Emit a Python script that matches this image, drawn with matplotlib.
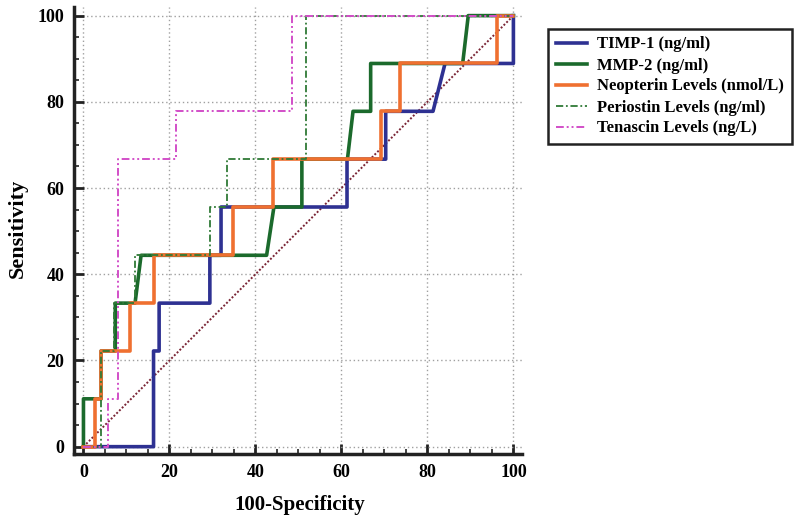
import matplotlib
matplotlib.use('Agg')
import matplotlib.pyplot as plt
from matplotlib.ticker import MultipleLocator

# ROC curves: (100-Specificity, Sensitivity) vertices
timp1_x = [0, 16.3, 16.3, 17.6, 17.6, 29.4, 29.4, 32.0, 32.0, 61.3, 61.3, 70.3, 70.3, 81.3, 84.1, 100, 100]
timp1_y = [0, 0, 22.2, 22.2, 33.3, 33.3, 44.4, 44.4, 55.6, 55.6, 66.7, 66.7, 77.8, 77.8, 88.9, 88.9, 100]

mmp2_x = [0, 0, 4.1, 4.1, 7.4, 7.4, 12.0, 13.4, 42.6, 44.3, 50.8, 50.8, 61.4, 62.7, 66.8, 66.8, 88.2, 89.5, 100]
mmp2_y = [0, 11.1, 11.1, 22.2, 22.2, 33.3, 33.3, 44.4, 44.4, 55.6, 55.6, 66.7, 66.7, 77.8, 77.8, 88.9, 88.9, 100, 100]

neop_x = [0, 2.7, 2.7, 4.1, 4.1, 10.9, 10.9, 16.3, 16.3, 34.8, 34.8, 44.1, 44.1, 69.3, 69.3, 73.6, 73.6, 96.1, 96.1, 100]
neop_y = [0, 0, 11.1, 11.1, 22.2, 22.2, 33.3, 33.3, 44.4, 44.4, 55.6, 55.6, 66.7, 66.7, 77.8, 77.8, 88.9, 88.9, 100, 100]

peri_x = [0, 4.1, 4.1, 7.0, 7.0, 12.0, 12.0, 29.5, 29.5, 33.3, 33.3, 51.7, 51.7, 100]
peri_y = [0, 0, 22.2, 22.2, 33.3, 33.3, 44.4, 44.4, 55.6, 55.6, 66.7, 66.7, 100, 100]

tena_x = [0, 5.8, 5.8, 8.1, 8.1, 21.6, 21.6, 48.5, 48.5, 100]
tena_y = [0, 0, 11.1, 11.1, 66.7, 66.7, 77.8, 77.8, 100, 100]

ref_x = [0, 100]
ref_y = [0, 100]

labels = ['TIMP-1 (ng/ml)', 'MMP-2 (ng/ml)', 'Neopterin Levels (nmol/L)',
          'Periostin Levels (ng/ml)', 'Tenascin Levels (ng/L)']

plt.rcParams['font.family'] = ['Liberation Serif', 'DejaVu Serif']
plt.rcParams['font.weight'] = 'bold'

fig = plt.figure(figsize=(8, 5.25), dpi=100)
ax = fig.add_axes([74/800, 71/525, 448/800, 447/525])
ax.set_xlim(-2.2, 102)
ax.set_ylim(-1.7, 102)

ax.xaxis.set_major_locator(MultipleLocator(20))
ax.yaxis.set_major_locator(MultipleLocator(20))
ax.xaxis.set_minor_locator(MultipleLocator(5))
ax.yaxis.set_minor_locator(MultipleLocator(5))
ax.grid(True, which='major', linestyle=(0, (1, 2)), color='#a0a0a0', linewidth=1.0)
ax.set_axisbelow(True)

for s in ['top', 'right']:
    ax.spines[s].set_visible(False)
for s in ['left', 'bottom']:
    ax.spines[s].set_linewidth(2.5)
    ax.spines[s].set_color('#222222')

ax.tick_params(which='major', direction='in', length=7, width=2, labelsize=13, pad=7, color='#222222')
ax.tick_params(which='minor', direction='in', length=3.5, width=1.2, color='#222222')
for lab in ax.get_xticklabels() + ax.get_yticklabels():
    lab.set_fontweight('bold')

ax.plot(ref_x, ref_y, linestyle=(0, (1, 1)), color='#7a2535', linewidth=1.4, zorder=2)

lw = 2.6
h1, = ax.plot(timp1_x, timp1_y, color='#2e3192', linewidth=lw, zorder=3, label=labels[0])
h2, = ax.plot(mmp2_x, mmp2_y, color='#1b6a2c', linewidth=lw, zorder=4, label=labels[1])
h3, = ax.plot(neop_x, neop_y, color='#ef7030', linewidth=lw, zorder=5, label=labels[2])
h4, = ax.plot(peri_x, peri_y, color='#2f7a36', linewidth=1.3,
              linestyle=(0, (4, 1.5, 1, 1.5)), zorder=6, label=labels[3])
h5, = ax.plot(tena_x, tena_y, color='#d24fc8', linewidth=1.4,
              linestyle=(0, (4, 1.5, 1, 1.5, 1, 1.5)), zorder=7, label=labels[4])

ax.set_xlabel('100-Specificity', fontsize=15, fontweight='bold')
ax.set_ylabel('Sensitivity', fontsize=16, fontweight='bold')
ax.xaxis.set_label_coords((300 - 74) / 448, (454 - 505) / 447)
ax.xaxis.label.set_va('center')
ax.yaxis.set_label_coords((18 - 74) / 448, (454 - 228) / 447)
ax.yaxis.label.set_va('center')

leg = fig.legend(handles=[h1, h2, h3, h4, h5], loc='upper left',
                 bbox_to_anchor=(548/800, 1 - 29/525), bbox_transform=fig.transFigure,
                 fancybox=False, framealpha=1, edgecolor='#222222',
                 prop={'family': 'Liberation Serif', 'weight': 'bold', 'size': 12},
                 handlelength=1.9, handletextpad=0.6, labelspacing=0.3,
                 borderpad=0.45, borderaxespad=0)
leg.get_frame().set_linewidth(1.8)

fig.savefig('out.png', dpi=100)
